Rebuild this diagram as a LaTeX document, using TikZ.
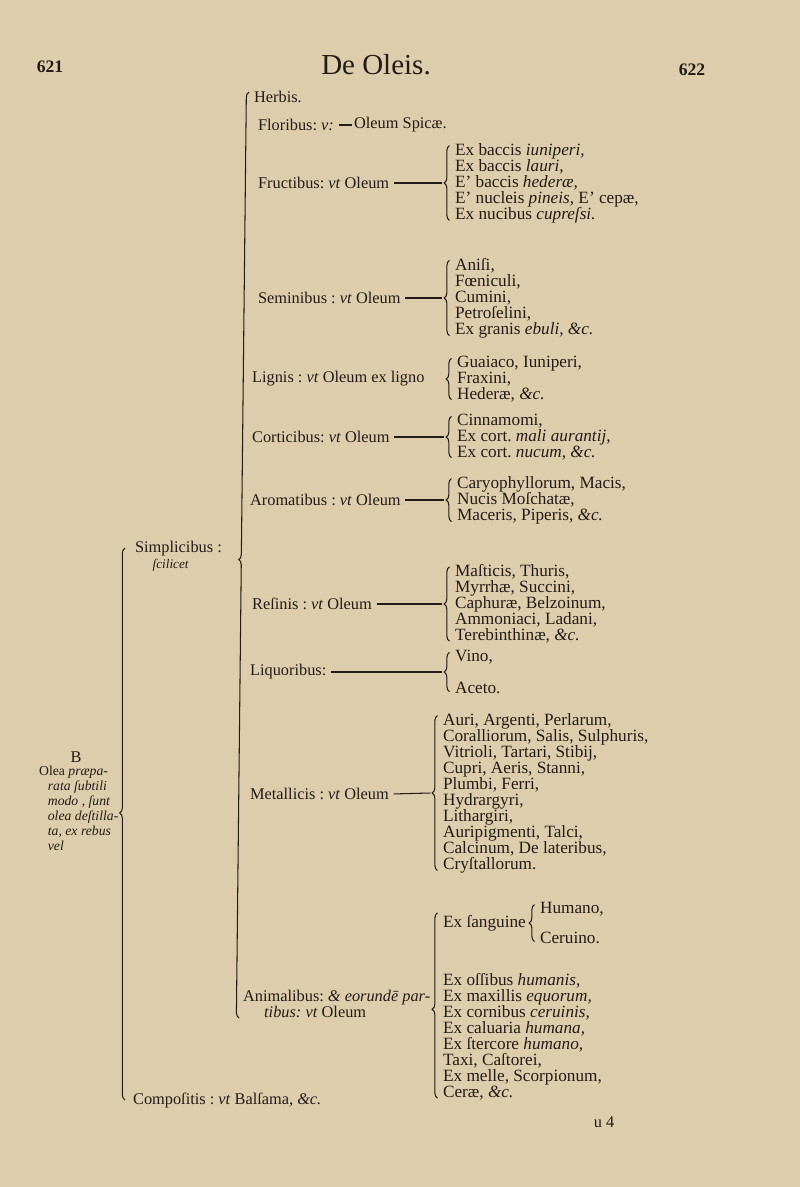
\documentclass[tikz,border=0pt]{standalone}
\usepackage{fontspec}
\setmainfont{Liberation Serif}
\usetikzlibrary{decorations.pathreplacing}
\definecolor{paper}{RGB}{222,205,172}
\definecolor{ink}{RGB}{34,27,22}
\setlength{\lineskiplimit}{-4pt}
\frenchspacing

\begin{document}
\begin{tikzpicture}[x=0.02cm,y=-0.02cm,
        every node/.style={inner sep=1pt,text=ink,font=\fontsize{9.3}{9.1}\selectfont},
        lbl/.style={anchor=west},
        lst/.style={anchor=west,align=left,inner ysep=-1.5pt,font=\fontsize{9.8}{9.1}\selectfont},
        brc/.style={draw=ink,line width=0.6pt,decorate,decoration={brace,amplitude=3pt}},
        dsh/.style={draw=ink,line width=0.6pt,shorten <=1.5pt}]
        \fill[paper] (0,0) rectangle (800,1187);
        \useasboundingbox (0,0) rectangle (800,1187);

        \node[font=\fontsize{10}{12}\selectfont\bfseries] (pgL) at (50,67) {621};
        \node[font=\fontsize{16.5}{20}\selectfont] (title) at (376,65) {De Oleis.};
        \node[font=\fontsize{10}{12}\selectfont\bfseries] (pgR) at (692,70) {622};

        \node (sigB) at (76,757) {B};
        \node[anchor=north west,align=left,font=\fontsize{7.8}{8.5}\selectfont\itshape] (olea) at (37,764)
            {\textup{Olea} præpa-\\\hspace*{5pt}rata ſubtili\\\hspace*{5pt}modo , ſunt\\\hspace*{5pt}olea deſtilla-\\\hspace*{5pt}ta, ex rebus\\\hspace*{5pt}vel};
        \coordinate (mainTop) at (125,548);
        \coordinate (mainBot) at (125,1100);
        \draw[brc,decoration={aspect=0.52}] (mainBot) -- (mainTop);

        \node[lst,font=\fontsize{9.3}{9.1}\selectfont] (simp) at (133,556) {Simplicibus :\\\hspace*{10pt}{\fontsize{7.5}{8}\selectfont\itshape ſcilicet}};
        \node[lbl] (compos) at (131,1100) {Compoſitis : \textit{vt} Balſama, \textit{\&c.}};
        \coordinate (simpTop) at (249,92);
        \coordinate (simpBot) at (239,1018);
        \draw[brc,decoration={aspect=0.495}] (simpBot) -- (simpTop);

        \node[lbl] (herb) at (252,97) {Herbis.};
        \node[lbl] (flor) at (256,125) {Floribus: \textit{v:}};
        \node[lbl] (florO) at (352,125) {Oleum Spicæ.};
        \draw[dsh] (flor.east) -- (florO.west);

        \node[lbl] (fruct) at (256,183) {Fructibus: \textit{vt} Oleum};
        \node[lst] (fructL) at (453,183) {Ex baccis \textit{iuniperi,}\\Ex baccis \textit{lauri,}\\E’ baccis \textit{hederæ,}\\E’ nucleis \textit{pineis,} E’ cepæ,\\Ex nucibus \textit{cupreſsi.}};
        \draw[brc] ([xshift=-2pt]fructL.south west) -- ([xshift=-2pt]fructL.north west);
        \draw[dsh] (fruct.east) -- ([xshift=-6pt]fructL.west);

        \node[lbl] (semin) at (256,298) {Seminibus : \textit{vt} Oleum};
        \node[lst] (seminL) at (453,298) {Aniſi,\\Fœniculi,\\Cumini,\\Petroſelini,\\Ex granis \textit{ebuli, \&c.}};
        \draw[brc] ([xshift=-2pt]seminL.south west) -- ([xshift=-2pt]seminL.north west);
        \draw[dsh] (semin.east) -- ([xshift=-6pt]seminL.west);

        \node[lbl] (lign) at (250,379) {Lignis : \textit{vt} Oleum ex ligno};
        \node[lst] (lignL) at (455,379) {Guaiaco, Iuniperi,\\Fraxini,\\Hederæ, \textit{\&c.}};
        \draw[brc] ([xshift=-2pt]lignL.south west) -- ([xshift=-2pt]lignL.north west);

        \node[lbl] (cort) at (250,437) {Corticibus: \textit{vt} Oleum};
        \node[lst] (cortL) at (455,437) {Cinnamomi,\\Ex cort. \textit{mali aurantij,}\\Ex cort. \textit{nucum, \&c.}};
        \draw[brc] ([xshift=-2pt]cortL.south west) -- ([xshift=-2pt]cortL.north west);
        \draw[dsh] (cort.east) -- ([xshift=-6pt]cortL.west);

        \node[lbl] (arom) at (248,500) {Aromatibus : \textit{vt} Oleum};
        \node[lst] (aromL) at (455,500) {Caryophyllorum, Macis,\\Nucis Moſchatæ,\\Maceris, Piperis, \textit{\&c.}};
        \draw[brc] ([xshift=-2pt]aromL.south west) -- ([xshift=-2pt]aromL.north west);
        \draw[dsh] (arom.east) -- ([xshift=-6pt]aromL.west);

        \node[lbl] (resin) at (250,604) {Reſinis : \textit{vt} Oleum};
        \node[lst] (resinL) at (453,604) {Maſticis, Thuris,\\Myrrhæ, Succini,\\Caphuræ, Belzoinum,\\Ammoniaci, Ladani,\\Terebinthinæ, \textit{\&c.}};
        \draw[brc] ([xshift=-2pt]resinL.south west) -- ([xshift=-2pt]resinL.north west);
        \draw[dsh] (resin.east) -- ([xshift=-6pt]resinL.west);

        \node[lbl] (liquor) at (248,672) {Liquoribus:};
        \node[lst] (liquorL) at (453,672) {Vino,\\[9.1pt]Aceto.};
        \draw[brc] ([xshift=-2pt]liquorL.south west) -- ([xshift=-2pt]liquorL.north west);
        \draw[dsh] (liquor.east) -- ([xshift=-6pt]liquorL.west);

        \node[lbl] (metal) at (248,794) {Metallicis : \textit{vt} Oleum};
        \node[lst] (metalL) at (441,793) {Auri, Argenti, Perlarum,\\Coralliorum, Salis, Sulphuris,\\Vitrioli, Tartari, Stibij,\\Cupri, Aeris, Stanni,\\Plumbi, Ferri,\\Hydrargyri,\\Lithargiri,\\Auripigmenti, Talci,\\Calcinum, De lateribus,\\Cryſtallorum.};
        \draw[brc] ([xshift=-2pt]metalL.south west) -- ([xshift=-2pt]metalL.north west);
        \draw[dsh] (metal.east) -- ([xshift=-6pt]metalL.west);

        \node[lst,font=\fontsize{9.3}{9.1}\selectfont] (anim) at (241,1004) {Animalibus: \textit{\& eorundē par-}\\\hspace*{12pt}\textit{tibus: vt} Oleum};
        \node[lbl,font=\fontsize{9.8}{9.1}\selectfont] (sang) at (441,923) {Ex ſanguine};
        \node[lst] (animL) at (441,1037) {Ex oſſibus \textit{humanis,}\\Ex maxillis \textit{equorum,}\\Ex cornibus \textit{ceruinis,}\\Ex caluaria \textit{humana,}\\Ex ſtercore \textit{humano,}\\Taxi, Caſtorei,\\Ex melle, Scorpionum,\\Ceræ, \textit{\&c.}};
        \draw[brc,decoration={aspect=0.48}] ([xshift=-2pt]animL.south west) -- ([xshift=-2pt]sang.north west);
        \node[lst] (humL) at (538,923) {Humano,\\[8pt]Ceruino.};
        \draw[brc] ([xshift=-2pt]humL.south west) -- ([xshift=-2pt]humL.north west);

        \node (sig) at (604,1122) {u 4};
\end{tikzpicture}
\end{document}
